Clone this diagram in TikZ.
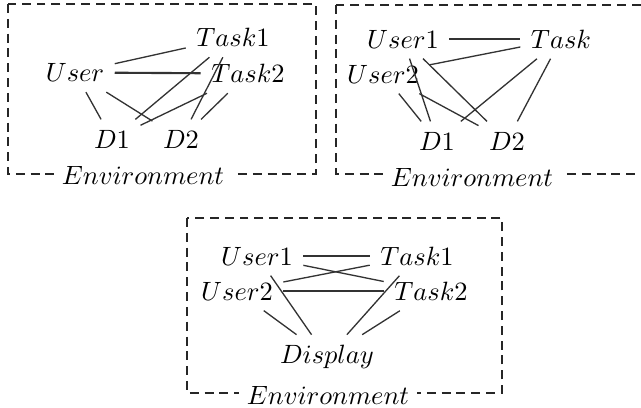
\documentclass[tikz,border=0pt]{standalone}
\begin{document}
\begin{tikzpicture}[x=0.378pt,y=-0.378pt,
  agent/.style={inner sep=3.8pt},
  envbox/.style={draw=black!85,line width=0.5pt,dash pattern=on 3.4pt off 2.2pt},
  envlabel/.style={fill=white,inner sep=3pt},
  link/.style={draw=black!80,line width=0.5pt},
  heavy/.style={draw=black!80,line width=0.8pt}]
\useasboundingbox (0,0) rectangle (641,408);

% ---- left panel: one user, two tasks, two displays
\draw[envbox] (8,4) rectangle (316,174);
\node[envlabel] (envA) at (143,175) {$Environment$};
\node[agent] (uA)  at (75,72.5)  {$User$};
\node[agent] (t1A) at (233,37.5) {$Task1$};
\node[agent] (t2A) at (248,73.5) {$Task2$};
\node[agent] (d1A) at (112,139)  {$D1$};
\node[agent] (d2A) at (181,139)  {$D2$};
\draw[link]  (uA) -- (t1A);
\draw[heavy] (uA) -- (t2A);
\draw[link]  (uA) -- (d1A);
\draw[link]  (uA) -- (d2A);
\draw[link]  (t1A) -- (d1A);
\draw[link]  (t1A) -- (d2A);
\draw[link]  (t2A) -- (d1A);
\draw[link]  (t2A) -- (d2A);

% ---- right panel: two users, one task, two displays
\draw[envbox] (336,5) rectangle (660,174);
\node[envlabel] (envB) at (472,177) {$Environment$};
\node[agent] (u1B) at (403,39) {$User1$};
\node[agent] (u2B) at (383,74) {$User2$};
\node[agent] (tB)  at (561,39) {$Task$};
\node[agent] (d1B) at (437,141) {$D1$};
\node[agent] (d2B) at (507,141) {$D2$};
\draw[link] (u1B) -- (tB);
\draw[link] (u2B) -- (tB);
\draw[link] (u1B) -- (d1B);
\draw[link] (u1B) -- (d2B);
\draw[link] (u2B) -- (d1B);
\draw[link] (u2B) -- (d2B);
\draw[link] (tB) -- (d1B);
\draw[link] (tB) -- (d2B);

% ---- bottom panel: two users, two tasks, one shared display
\draw[envbox] (187,218) rectangle (502,393);
\node[envlabel] (envC) at (328,395) {$Environment$};
\node[agent] (u1C) at (257,256) {$User1$};
\node[agent] (u2C) at (237,291) {$User2$};
\node[agent] (t1C) at (417,256) {$Task1$};
\node[agent] (t2C) at (431,291) {$Task2$};
\node[agent] (dC)  at (327,357) {$Display$};
\draw[heavy] (u1C) -- (t1C);
\draw[link]  (u1C) -- (t2C);
\draw[link]  (u2C) -- (t1C);
\draw[heavy] (u2C) -- (t2C);
\draw[link]  (u1C) -- (dC);
\draw[link]  (u2C) -- (dC);
\draw[link]  (t1C) -- (dC);
\draw[link]  (t2C) -- (dC);
\end{tikzpicture}
\end{document}
